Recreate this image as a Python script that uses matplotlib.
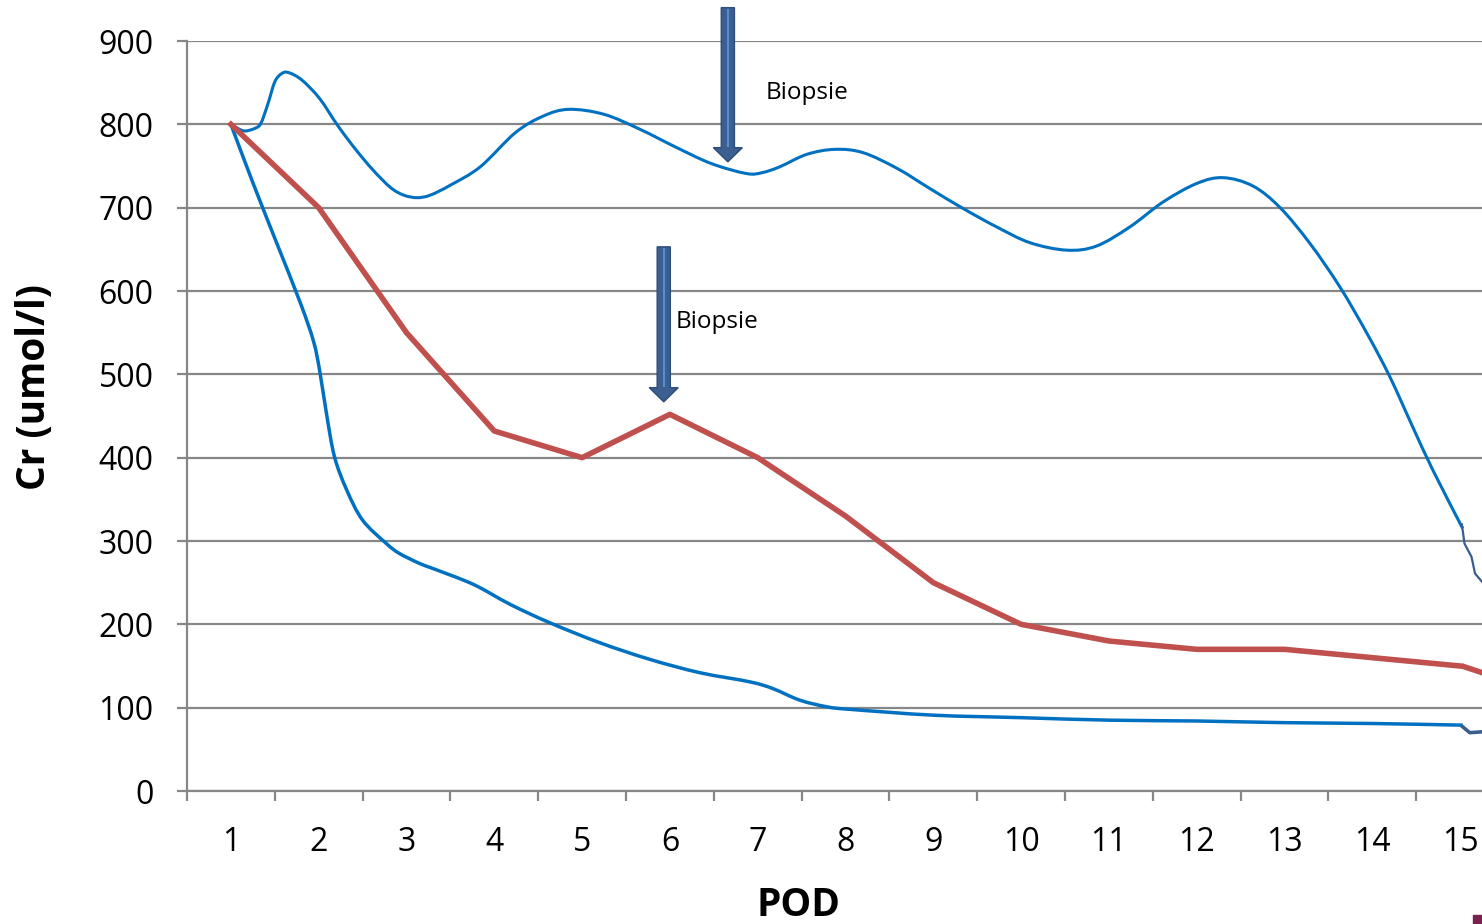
import numpy as np
import matplotlib
matplotlib.use("Agg")
import matplotlib.pyplot as plt
from matplotlib.patches import FancyArrow, Rectangle, PathPatch
from matplotlib.path import Path

plt.rcParams['font.family'] = ['Open Sans', 'DejaVu Sans']

#* POD categories and the red series (one value per day)
pod = list(range(1, 16))
cr_red = [800, 700, 550, 432, 400, 452, 400, 330, 250, 200, 180, 170, 170, 160, 150]

#* upper blue curve (hand drawn)
up_x = [1.00, 1.08, 1.16, 1.27, 1.34, 1.42, 1.50, 1.58, 1.66, 1.81, 2.01, 2.22,
        2.42, 2.62, 2.82, 2.97, 3.12, 3.27, 3.50, 3.84, 4.24, 4.56, 4.85, 5.25,
        5.66, 6.06, 6.47, 6.87, 7.05, 7.25, 7.56, 7.88, 8.20, 8.59, 8.96, 9.34,
        9.72, 10.10, 10.52, 10.86, 11.24, 11.62, 12.00, 12.30, 12.64, 12.95,
        13.29, 13.63, 13.94, 14.20, 14.46, 14.69, 15.03]
up_y = [800, 795, 792, 795, 801, 824, 851, 861, 862, 853, 831, 798,
        770, 745, 724, 715, 712, 715, 727, 749, 790, 810, 818, 812,
        794, 773, 753, 741, 742, 749, 764, 770, 766, 747, 723, 699,
        677, 658, 649, 654, 677, 707, 729, 736, 726, 700,
        657, 605, 549, 497, 437, 385, 315]

#* lower blue curve
lo_x = [1.00, 1.25, 1.52, 1.79, 1.94, 2.01, 2.09, 2.18, 2.32, 2.50, 2.77, 2.92,
        3.15, 3.30, 3.76, 4.18, 4.63, 5.20, 5.77, 6.34, 6.91, 7.17, 7.48, 7.79,
        8.05, 9.0, 10.0, 11.0, 12.0, 13.0, 14.0, 15.03]
lo_y = [800, 730, 658, 586, 540, 505, 452, 401, 361, 325, 297, 285,
        273, 267, 248, 224, 202, 178, 158, 142, 131, 123, 109, 101,
        98, 91, 88, 85, 84, 82, 81, 79]

#* stray bits at the right edge
sq1_x = [15.02, 15.05, 15.13, 15.17, 15.25]
sq1_y = [320, 297, 281, 261, 251]
sq2_x = [15.03, 15.11, 15.25]
sq2_y = [77, 70, 71]
red_tail_x = [15.05, 15.25]
red_tail_y = [149, 142]

#* biopsy arrows: x, top, tip
arr_x = [6.66, 5.93]
arr_top = [940, 653]
arr_tip = [755, 467]
bio_x = [7.09, 6.07]
bio_y = [838, 563]

BLUE = '#0070C0'
RED = '#C0504D'
GRID = '#878787'


def smooth_path(ax, xs, ys):
    # bezier path through the points (like a "smoothed line"), drawn in pixel space
    pts = ax.transData.transform(np.column_stack([xs, ys]))
    verts = [pts[0]]
    codes = [Path.MOVETO]
    n = len(pts)
    for i in range(n - 1):
        p0 = pts[max(i - 1, 0)]
        p1 = pts[i]
        p2 = pts[i + 1]
        p3 = pts[min(i + 2, n - 1)]
        c1 = p1 + (p2 - p0) / 6.0
        c2 = p2 - (p3 - p1) / 6.0
        verts += [c1, c2, p2]
        codes += [Path.CURVE4] * 3
    verts = ax.transData.inverted().transform(np.array(verts))
    return Path(verts, codes)


fig = plt.figure(figsize=(14.82, 9.24), dpi=100)
ax = fig.add_axes([187/1482, 133/924, 1317/1482, 750/924])

ax.set_xlim(0.5, 15.5)
ax.set_ylim(0, 900)
ax.set_yticks(np.arange(0, 901, 100))
ax.yaxis.grid(True, color=GRID, lw=1.6)
ax.set_axisbelow(True)

ax.set_xticks(pod)
ax.set_xticklabels([str(p) for p in pod])
ax.set_xticks(np.arange(0.5, 16, 1), minor=True)
ax.tick_params(axis='x', which='major', length=0, pad=25, labelsize=23)
ax.tick_params(axis='x', which='minor', length=7.5, width=1.6, color=GRID)
ax.tick_params(axis='y', length=7, width=1.6, color=GRID, pad=17, labelsize=23)

for s in ['top', 'right']:
    ax.spines[s].set_visible(False)
for s in ['left', 'bottom']:
    ax.spines[s].set_color(GRID)
    ax.spines[s].set_linewidth(1.6)

ax.add_patch(PathPatch(smooth_path(ax, up_x, up_y), fc='none', ec=BLUE,
                       lw=2.2, zorder=3))
ax.add_patch(PathPatch(smooth_path(ax, lo_x, lo_y), fc='none', ec=BLUE,
                       lw=2.5, zorder=3))
ax.plot(pod, cr_red, color=RED, lw=4.0, solid_joinstyle='round', zorder=4)
ax.plot(red_tail_x, red_tail_y, color=RED, lw=4.0, zorder=4, clip_on=False)
ax.plot(sq1_x, sq1_y, color='#3B5E8C', lw=1.6, zorder=4, clip_on=False)
ax.plot(sq2_x, sq2_y, color='#3B5E8C', lw=2.6, zorder=4, clip_on=False)

for x, top, tip, tx, ty in zip(arr_x, arr_top, arr_tip, bio_x, bio_y):
    hl = 17
    a = FancyArrow(x, top, 0, tip - top, width=0.15, head_width=0.33,
                   head_length=hl, length_includes_head=True,
                   fc='#3A5F90', ec='#2E4D78', lw=1.0, zorder=6, clip_on=False)
    ax.add_patch(a)
    ax.plot([x, x], [top - 3, tip + hl + 2], color='#5B8BC8', lw=1.6,
            zorder=7, clip_on=False)
    ax.text(tx, ty, 'Biopsie', fontsize=17.5, ha='left', va='center', zorder=8)

fig.text(35/1482, 1 - 387/924, 'Cr (umol/l)', rotation=90, ha='center',
         va='center', fontsize=28, fontweight='bold')
fig.text(798/1482, 1 - 905/924, 'POD', ha='center', va='center',
         fontsize=28, fontweight='bold')

fig.patches.append(Rectangle((1473/1482, 0), 9/1482, 9/924,
                             transform=fig.transFigure, color='#7B2150'))

fig.savefig('out.png', dpi=100)
